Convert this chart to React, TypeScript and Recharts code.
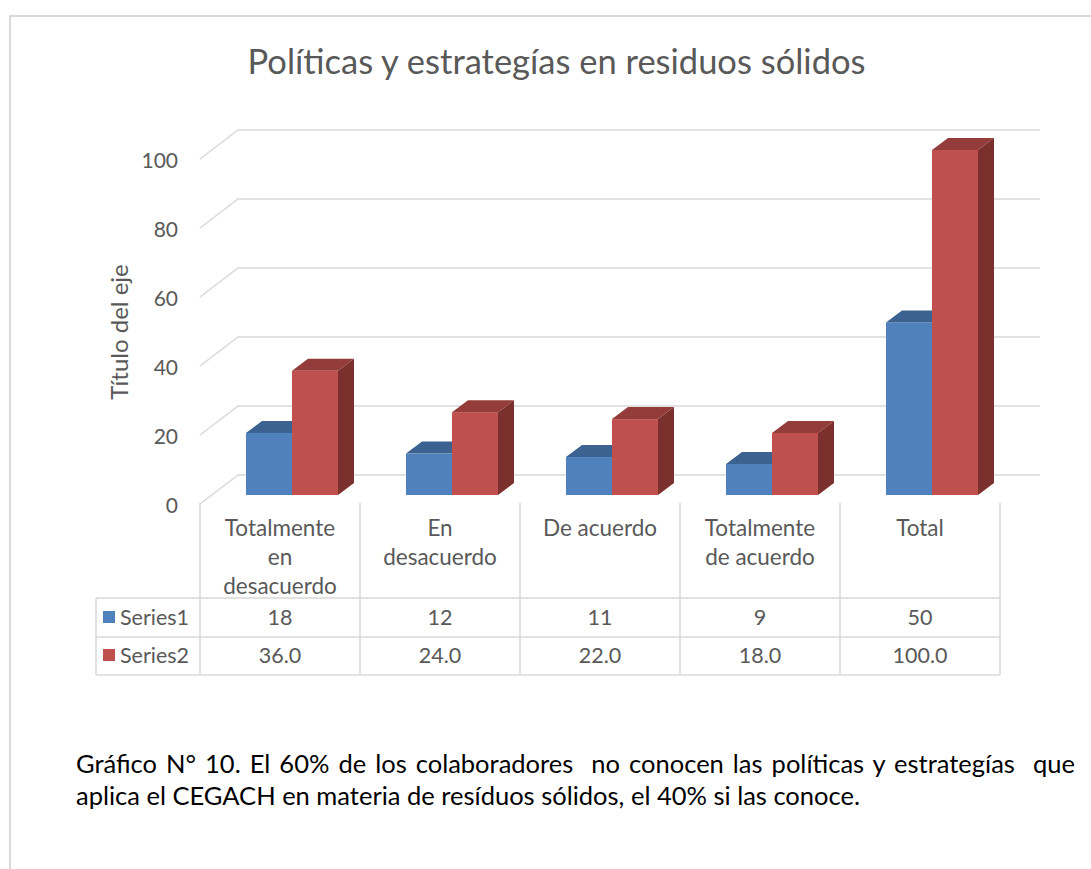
import React from 'react';
import { BarChart, Bar, XAxis, YAxis, CartesianGrid } from 'recharts';

const categories = ['Totalmente\nen\ndesacuerdo', 'En\ndesacuerdo', 'De acuerdo', 'Totalmente\nde acuerdo', 'Total'];
const series1 = [18, 12, 11, 9, 50];
const series2 = [36, 24, 22, 18, 100];
const yTicks = [0, 20, 40, 60, 80, 100];

const FONT = 'Lato, "Open Sans", sans-serif';
const TEXT = '#595959';
const GRID = '#d9d9d9';

const data = categories.map((name, i) => ({ name, s1: series1[i], s2: series2[i] }));

// 3D column: front face, top face and right side face
const makeBar3D = (front: string, top: string, side: string) => (props: any) => {
  const { x, y, width, height } = props;
  const dx = 16;
  const dy = 12;
  return (
    <g>
      <rect x={x} y={y} width={width} height={height} fill={front} />
      <polygon points={`${x},${y} ${x + dx},${y - dy} ${x + width + dx},${y - dy} ${x + width},${y}`} fill={top} />
      <polygon
        points={`${x + width},${y} ${x + width + dx},${y - dy} ${x + width + dx},${y + height - dy} ${x + width},${y + height}`}
        fill={side}
      />
    </g>
  );
};

// perspective grid: front edge slants up to the back wall
const gridLine = (p: any) => (
  <polyline
    key={p.key}
    points={`${p.x1 - 12},${p.y1 + 9} ${p.x1 + 26},${p.y1 - 20} ${p.x2 + 28},${p.y1 - 20}`}
    fill="none"
    stroke={GRID}
    strokeWidth={1.5}
  />
);

const yTick = (p: any) => (
  <text x={178} y={p.y + 9} textAnchor="end" dominantBaseline="central" fill={TEXT} fontSize={21} fontFamily={FONT}>
    {p.payload.value}
  </text>
);

const colX = [200, 360, 520, 680, 840, 1000];
const rows = [
  { label: 'Series1', color: '#4F81BD', values: series1.map((v) => String(v)) },
  { label: 'Series2', color: '#C0504D', values: series2.map((v) => v.toFixed(1)) },
];

export default function App() {
  const abs: React.CSSProperties = { position: 'absolute' };
  return (
    <div style={{ position: 'absolute', left: 0, top: 0, width: 1091, height: 869, overflow: 'hidden', background: '#fff', fontFamily: FONT }}>
      {/* frame */}
      <div style={{ ...abs, left: 9, top: 15, width: 1200, height: 1000, borderLeft: `2px solid ${GRID}`, borderTop: `2px solid ${GRID}` }} />

      <div style={{ ...abs, left: 0, top: 0 }}>
        <BarChart
          width={1091}
          height={869}
          data={data}
          margin={{ top: 150, right: 79, left: 152, bottom: 374 }}
          barGap={0}
          barSize={46}
        >
          <CartesianGrid vertical={false} horizontal={gridLine} />
          <XAxis dataKey="name" hide />
          <YAxis width={60} domain={[0, 100]} ticks={yTicks} axisLine={false} tickLine={false} tick={yTick} />
          <Bar dataKey="s1" isAnimationActive={false} shape={makeBar3D('#4F81BD', '#3B6290', '#345780')} />
          <Bar dataKey="s2" isAnimationActive={false} shape={makeBar3D('#C0504D', '#943C3A', '#7B302E')} />
        </BarChart>
      </div>

      {/* title */}
      <div style={{ ...abs, left: 0, width: 1113, top: 40, textAlign: 'center', fontSize: 34.5, lineHeight: '42px', color: TEXT }}>
        Políticas y estrategías en residuos sólidos
      </div>

      {/* axis title */}
      <div
        style={{
          ...abs,
          left: 118,
          top: 332,
          transform: 'translate(-50%, -50%) rotate(-90deg)',
          whiteSpace: 'nowrap',
          fontSize: 24,
          color: TEXT,
        }}
      >
        Título del eje
      </div>

      {/* data table */}
      <svg style={{ ...abs, left: 0, top: 0 }} width={1091} height={869}>
        {colX.map((x) => (
          <line key={x} x1={x} y1={503} x2={x} y2={675} stroke={GRID} strokeWidth={1.5} />
        ))}
        <line x1={96} y1={598} x2={96} y2={675} stroke={GRID} strokeWidth={1.5} />
        {[598, 637, 675].map((y) => (
          <line key={y} x1={96} y1={y} x2={1000} y2={y} stroke={GRID} strokeWidth={1.5} />
        ))}
        {categories.map((c, i) =>
          c.split('\n').map((ln, j) => (
            <text
              key={`${i}-${j}`}
              x={(colX[i] + colX[i + 1]) / 2}
              y={527 + j * 29}
              textAnchor="middle"
              dominantBaseline="central"
              fill={TEXT}
              fontSize={22.5}
              fontFamily={FONT}
            >
              {ln}
            </text>
          ))
        )}
        {rows.map((r, ri) => {
          const cy = 617 + ri * 38;
          return (
            <g key={r.label}>
              <rect x={103} y={cy - 6} width={12} height={12} fill={r.color} />
              <text x={120} y={cy} dominantBaseline="central" fill={TEXT} fontSize={21.5} fontFamily={FONT}>
                {r.label}
              </text>
              {r.values.map((v, i) => (
                <text
                  key={i}
                  x={(colX[i] + colX[i + 1]) / 2}
                  y={cy}
                  textAnchor="middle"
                  dominantBaseline="central"
                  fill={TEXT}
                  fontSize={21.5}
                  fontFamily={FONT}
                >
                  {v}
                </text>
              ))}
            </g>
          );
        })}
      </svg>

      {/* caption (first line justified in the source document) */}
      <div style={{ ...abs, left: 76, top: 747, fontSize: 25.5, lineHeight: '32px', color: '#000', whiteSpace: 'pre' }}>
        <div style={{ wordSpacing: 2.5 }}>
          {'Gráfico N° 10. El 60% de los colaboradores  no conocen las políticas y estrategías  que'}
        </div>
        <div>{'aplica el CEGACH en materia de resíduos sólidos, el 40% si las conoce.'}</div>
      </div>
    </div>
  );
}
